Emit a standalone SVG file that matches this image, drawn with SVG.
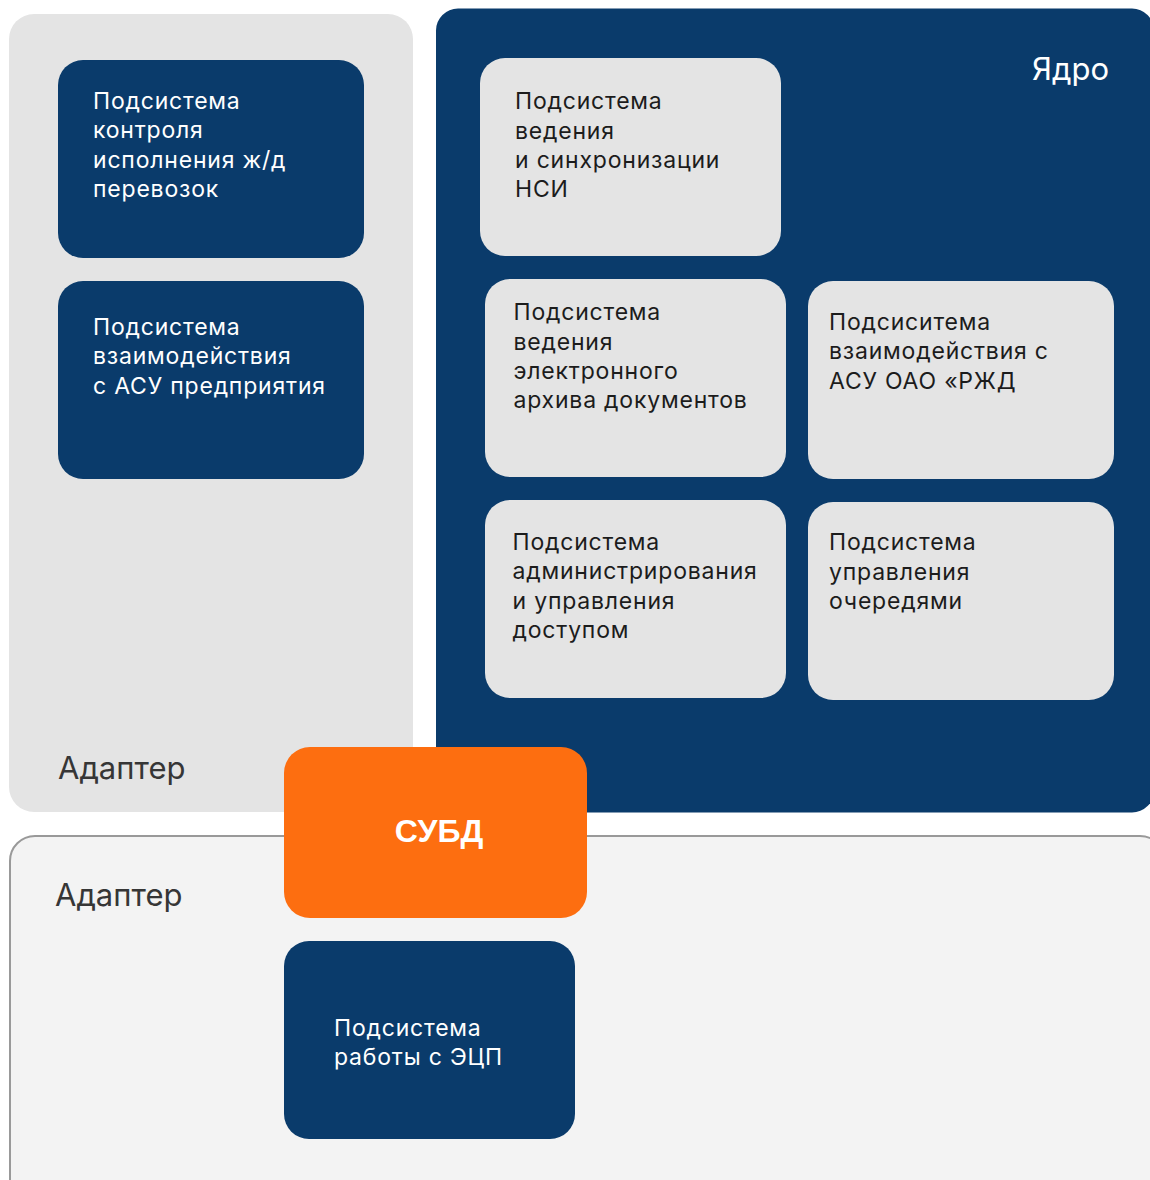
<svg xmlns="http://www.w3.org/2000/svg" width="1150" height="1180" viewBox="0 0 1150 1180">
  <style>
    .t { font-family: Inter, "Noto Sans", "Liberation Sans", sans-serif; font-size: 23px; letter-spacing: 0.8px; }
    .w { fill: #ffffff; }
    .k { fill: #1c1c1c; }
    .dark { fill: #0a3b6b; }
    .light { fill: #e4e4e4; }
    .lbl { font-family: Inter, "Noto Sans", "Liberation Sans", sans-serif; font-size: 31px; fill: #363636; }
  </style>
  <rect width="1150" height="1180" fill="#ffffff"/>

  <g id="adapter-top">
    <rect x="9" y="14" width="404" height="798" rx="25" class="light"/>
    <text x="58" y="779" class="lbl">Адаптер</text>
  </g>

  <g id="core">
    <rect x="436" y="8.5" width="718" height="804" rx="22" class="dark"/>
    <text x="1032" y="80" class="lbl" style="fill:#ffffff">Ядро</text>
  </g>

  <g id="adapter-bottom">
    <rect x="10" y="836" width="1155" height="370" rx="25" fill="#f3f3f3" stroke="#999999" stroke-width="2"/>
    <text x="55" y="906" class="lbl">Адаптер</text>
  </g>

  <g id="node-control">
    <rect x="58" y="60" width="306" height="198" rx="25" class="dark"/>
    <text class="t w">
      <tspan x="93" y="108.5">Подсистема</tspan>
      <tspan x="93" y="138">контроля</tspan>
      <tspan x="93" y="167.5">исполнения ж/д</tspan>
      <tspan x="93" y="197">перевозок</tspan>
    </text>
  </g>

  <g id="node-enterprise">
    <rect x="58" y="281" width="306" height="198" rx="25" class="dark"/>
    <text class="t w">
      <tspan x="93" y="334.5">Подсистема</tspan>
      <tspan x="93" y="364">взаимодействия</tspan>
      <tspan x="93" y="393.5">с АСУ предприятия</tspan>
    </text>
  </g>

  <g id="node-nsi">
    <rect x="480" y="58" width="301" height="198" rx="25" class="light"/>
    <text class="t k">
      <tspan x="515" y="109">Подсистема</tspan>
      <tspan x="515" y="138.5">ведения</tspan>
      <tspan x="515" y="168">и синхронизации</tspan>
      <tspan x="515" y="197">НСИ</tspan>
    </text>
  </g>

  <g id="node-archive">
    <rect x="485" y="279" width="301" height="198" rx="25" class="light"/>
    <text class="t k">
      <tspan x="513.5" y="320">Подсистема</tspan>
      <tspan x="513.5" y="349.5">ведения</tspan>
      <tspan x="513.5" y="379">электронного</tspan>
      <tspan x="513.5" y="408">архива документов</tspan>
    </text>
  </g>

  <g id="node-rzd">
    <rect x="808" y="281" width="306" height="198" rx="25" class="light"/>
    <text class="t k">
      <tspan x="829" y="330">Подсиситема</tspan>
      <tspan x="829" y="359">взаимодействия с</tspan>
      <tspan x="829" y="388.5">АСУ ОАО «РЖД</tspan>
    </text>
  </g>

  <g id="node-admin">
    <rect x="485" y="500" width="301" height="198" rx="25" class="light"/>
    <text class="t k">
      <tspan x="512.5" y="549.5">Подсистема</tspan>
      <tspan x="512.5" y="579">администрирования</tspan>
      <tspan x="512.5" y="608.5">и управления</tspan>
      <tspan x="512.5" y="638">доступом</tspan>
    </text>
  </g>

  <g id="node-queues">
    <rect x="808" y="502" width="306" height="198" rx="25" class="light"/>
    <text class="t k">
      <tspan x="829" y="550">Подсистема</tspan>
      <tspan x="829" y="579.5">управления</tspan>
      <tspan x="829" y="609">очередями</tspan>
    </text>
  </g>

  <g id="node-dbms">
    <rect x="284" y="747" width="303" height="171" rx="26" fill="#fd6e10"/>
    <text x="439" y="842" text-anchor="middle" font-family="'Liberation Sans', Arial, sans-serif" font-size="32" font-weight="bold" fill="#ffffff">СУБД</text>
  </g>

  <g id="node-eds">
    <rect x="284" y="941" width="291" height="198" rx="25" class="dark"/>
    <text class="t w">
      <tspan x="334" y="1036">Подсистема</tspan>
      <tspan x="334" y="1065">работы с ЭЦП</tspan>
    </text>
  </g>

  <g id="connectors"/>
</svg>
